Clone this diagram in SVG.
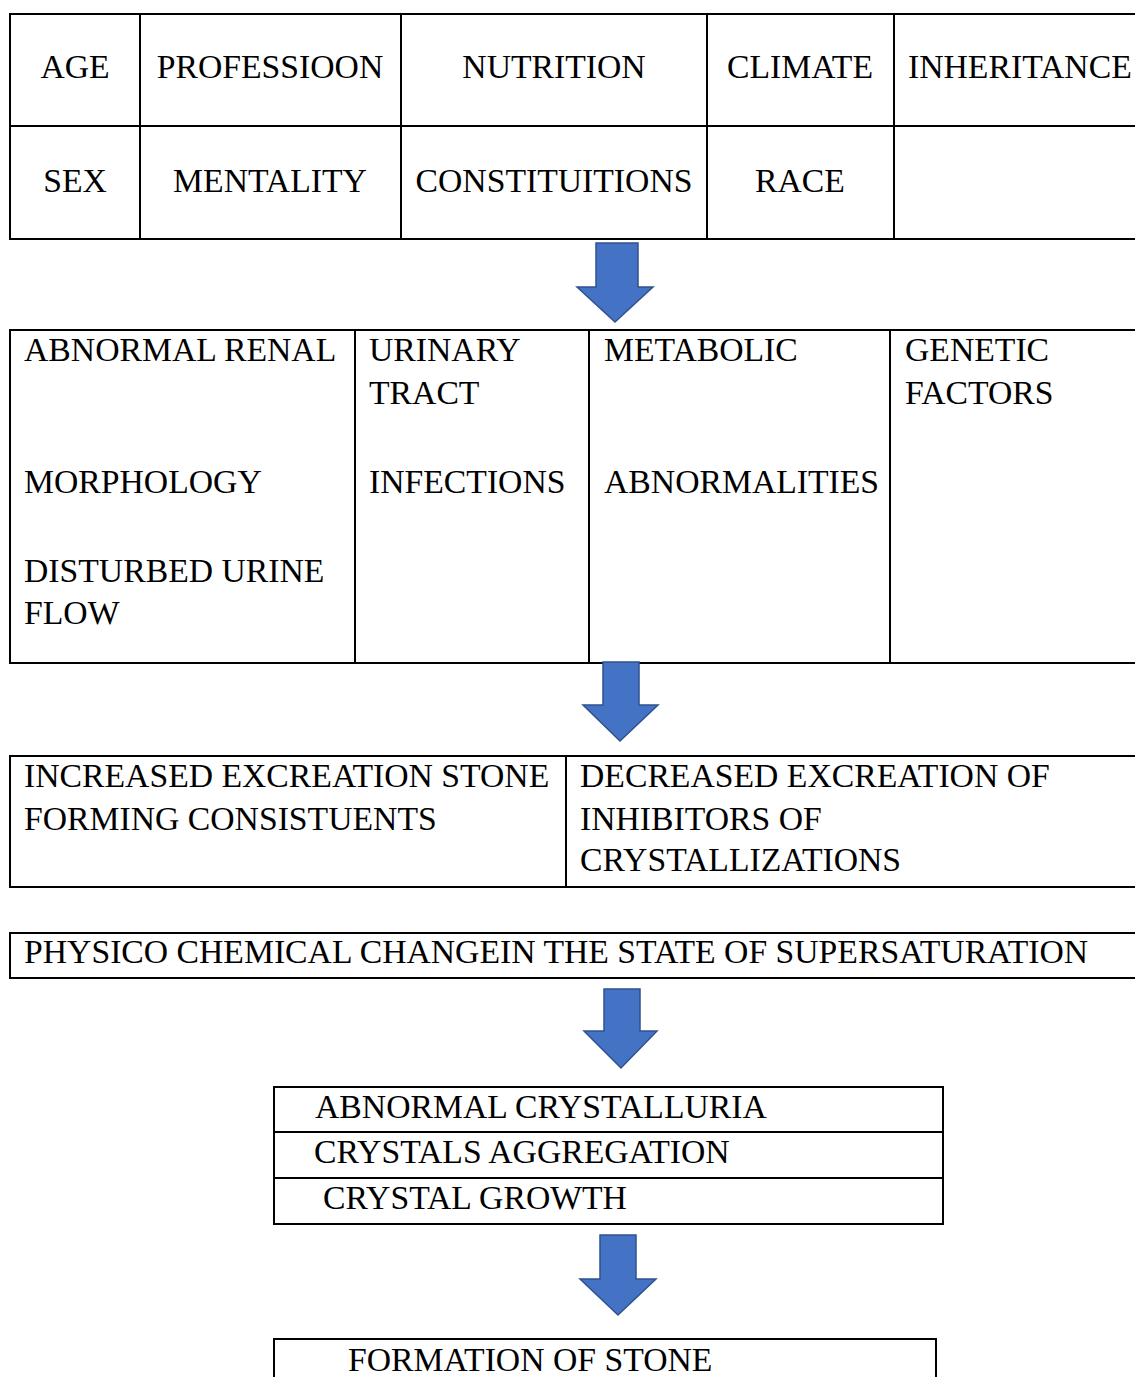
<svg xmlns="http://www.w3.org/2000/svg" width="1135" height="1377" viewBox="0 0 1135 1377">
<style>
.ln{stroke:#000;stroke-width:2;fill:none}
.t{font-family:"Liberation Serif","Times New Roman",serif;font-size:33.7px;fill:#000}
.c{text-anchor:middle}
.ar{fill:#4472C4;stroke:#2F528F;stroke-width:1.5;stroke-linejoin:miter}
</style>
<rect width="1135" height="1377" fill="#fff"/>
<g id="factors">
<rect class="ln" x="10" y="14" width="1140" height="225"/>
<line class="ln" x1="10" y1="126" x2="1150" y2="126"/>
<line class="ln" x1="140" y1="14" x2="140" y2="239"/>
<line class="ln" x1="401" y1="14" x2="401" y2="239"/>
<line class="ln" x1="707" y1="14" x2="707" y2="239"/>
<line class="ln" x1="894" y1="14" x2="894" y2="239"/>
<text class="t c" x="75" y="78">AGE</text>
<text class="t c" x="270" y="78">PROFESSIOON</text>
<text class="t c" x="554" y="78">NUTRITION</text>
<text class="t c" x="800" y="78">CLIMATE</text>
<text class="t" x="908" y="78">INHERITANCE</text>
<text class="t c" x="75" y="192">SEX</text>
<text class="t c" x="270" y="192">MENTALITY</text>
<text class="t c" x="554" y="192">CONSTITUITIONS</text>
<text class="t c" x="800" y="192">RACE</text>
</g>
<g id="causes">
<rect class="ln" x="10" y="330" width="1140" height="333"/>
<line class="ln" x1="355" y1="330" x2="355" y2="663"/>
<line class="ln" x1="589" y1="330" x2="589" y2="663"/>
<line class="ln" x1="890" y1="330" x2="890" y2="663"/>
<text class="t" x="24" y="361">ABNORMAL RENAL</text>
<text class="t" x="24" y="493">MORPHOLOGY</text>
<text class="t" x="24" y="582">DISTURBED URINE</text>
<text class="t" x="24" y="624">FLOW</text>
<text class="t" x="369" y="361">URINARY</text>
<text class="t" x="369" y="404">TRACT</text>
<text class="t" x="369" y="493">INFECTIONS</text>
<text class="t" x="604" y="361">METABOLIC</text>
<text class="t" x="604" y="493">ABNORMALITIES</text>
<text class="t" x="905" y="361">GENETIC</text>
<text class="t" x="905" y="404">FACTORS</text>
</g>
<g id="excretion">
<rect class="ln" x="10" y="756" width="1140" height="131"/>
<line class="ln" x1="566" y1="756" x2="566" y2="887"/>
<text class="t" x="24" y="787">INCREASED EXCREATION STONE</text>
<text class="t" x="24" y="830">FORMING CONSISTUENTS</text>
<text class="t" x="580" y="787">DECREASED EXCREATION OF</text>
<text class="t" x="580" y="830">INHIBITORS OF</text>
<text class="t" x="580" y="871">CRYSTALLIZATIONS</text>
</g>
<g id="physico">
<rect class="ln" x="10" y="933" width="1140" height="45"/>
<text class="t" x="24" y="963">PHYSICO CHEMICAL CHANGEIN THE STATE OF SUPERSATURATION</text>
</g>
<g id="crystal">
<rect class="ln" x="274" y="1087" width="669" height="137"/>
<line class="ln" x1="274" y1="1132" x2="943" y2="1132"/>
<line class="ln" x1="274" y1="1178" x2="943" y2="1178"/>
<text class="t" x="315" y="1118">ABNORMAL CRYSTALLURIA</text>
<text class="t" x="314" y="1163">CRYSTALS AGGREGATION</text>
<text class="t" x="323" y="1209">CRYSTAL GROWTH</text>
</g>
<g id="stone">
<rect class="ln" x="274" y="1339" width="662" height="60"/>
<text class="t" x="348" y="1371">FORMATION OF STONE</text>
</g>
<g id="connectors">
<polygon class="ar" points="596,243 638,243 638,287 653,287 615,322 577,287 596,287"/>
<polygon class="ar" points="603,662 639,662 639,705 658,705 620,741 583,705 603,705"/>
<polygon class="ar" points="604,989 640,989 640,1031 657,1031 621,1068 584,1031 604,1031"/>
<polygon class="ar" points="600,1235 636,1235 636,1279 656,1279 618,1315 580,1279 600,1279"/>
</g>
</svg>
